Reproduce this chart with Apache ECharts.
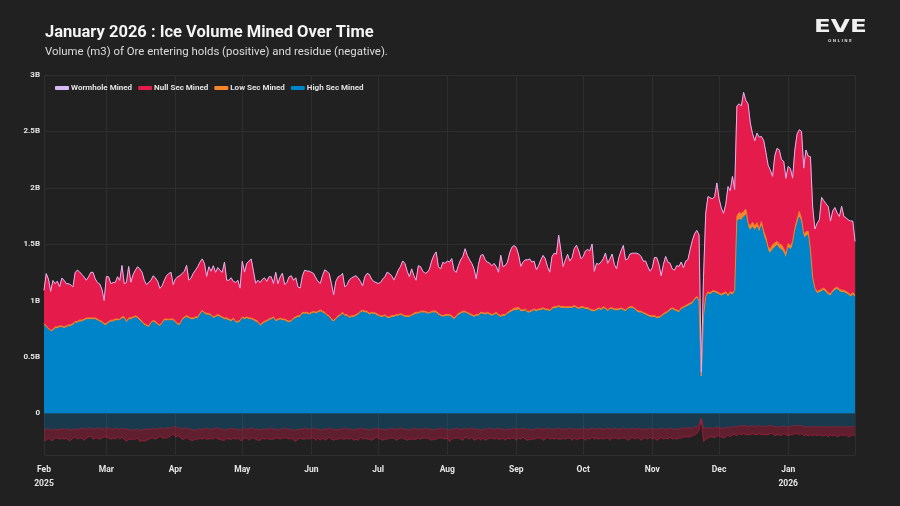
<!DOCTYPE html>
<html><head><meta charset="utf-8">
<script src="https://cdn.jsdelivr.net/npm/echarts@6/dist/echarts.min.js"></script>
<style>html,body{margin:0;padding:0;background:#212121;}#chart{width:900px;height:506px;}</style>
</head><body><div id="chart"></div>
<script>
// Daily values in billions of m3, from 2025-02-01 to 2026-01-31
const startDate = [2025, 1, 1];
const monthNames = ['Jan','Feb','Mar','Apr','May','Jun','Jul','Aug','Sep','Oct','Nov','Dec'];
const seriesNames = ['Wormhole Mined','Null Sec Mined','Low Sec Mined','High Sec Mined'];

const highSec = [
0.78,0.76,0.74,0.72,0.73,0.75,0.75,0.76,0.76,0.75,
0.76,0.77,0.77,0.78,0.80,0.80,0.81,0.81,0.82,0.83,
0.83,0.83,0.83,0.83,0.82,0.81,0.80,0.78,0.78,0.80,
0.81,0.81,0.82,0.82,0.82,0.84,0.84,0.80,0.83,0.83,
0.84,0.85,0.84,0.82,0.80,0.78,0.77,0.76,0.79,0.81,
0.80,0.78,0.77,0.79,0.82,0.82,0.82,0.82,0.82,0.80,
0.78,0.78,0.82,0.84,0.85,0.84,0.83,0.83,0.84,0.84,
0.87,0.90,0.88,0.87,0.87,0.86,0.84,0.85,0.86,0.85,
0.84,0.83,0.83,0.82,0.81,0.83,0.80,0.80,0.81,0.84,
0.83,0.84,0.83,0.83,0.82,0.81,0.80,0.77,0.79,0.80,
0.81,0.82,0.83,0.84,0.81,0.82,0.83,0.82,0.82,0.81,
0.80,0.81,0.83,0.84,0.85,0.85,0.88,0.88,0.88,0.87,
0.88,0.89,0.88,0.89,0.90,0.89,0.88,0.86,0.85,0.82,
0.81,0.83,0.85,0.86,0.88,0.86,0.86,0.84,0.85,0.85,
0.86,0.87,0.89,0.90,0.89,0.89,0.87,0.88,0.88,0.87,
0.86,0.85,0.85,0.86,0.84,0.84,0.85,0.85,0.86,0.86,
0.87,0.86,0.85,0.85,0.85,0.86,0.87,0.88,0.88,0.89,
0.89,0.89,0.88,0.88,0.89,0.89,0.89,0.87,0.86,0.85,
0.86,0.86,0.86,0.85,0.83,0.85,0.87,0.88,0.89,0.89,
0.88,0.87,0.86,0.85,0.86,0.86,0.88,0.88,0.87,0.88,
0.87,0.86,0.87,0.88,0.86,0.85,0.86,0.86,0.88,0.89,
0.90,0.91,0.91,0.92,0.90,0.90,0.91,0.89,0.89,0.90,
0.91,0.90,0.91,0.91,0.92,0.91,0.91,0.90,0.92,0.93,
0.93,0.94,0.93,0.93,0.93,0.93,0.93,0.93,0.94,0.93,
0.92,0.93,0.93,0.92,0.92,0.91,0.90,0.90,0.91,0.92,
0.91,0.93,0.92,0.90,0.92,0.92,0.91,0.91,0.91,0.92,
0.91,0.90,0.92,0.93,0.93,0.92,0.90,0.89,0.89,0.88,
0.87,0.86,0.85,0.85,0.85,0.84,0.84,0.85,0.87,0.88,
0.89,0.91,0.92,0.91,0.90,0.89,0.92,0.93,0.94,0.95,
0.96,0.97,1.00,1.02,0.98,0.32,0.85,1.02,1.06,1.05,
1.07,1.07,1.06,1.05,1.04,1.05,1.06,1.03,1.06,1.05,
1.07,1.70,1.72,1.71,1.74,1.76,1.65,1.62,1.65,1.62,
1.65,1.60,1.66,1.57,1.52,1.44,1.42,1.45,1.47,1.49,
1.46,1.45,1.42,1.37,1.47,1.45,1.48,1.60,1.67,1.74,
1.68,1.55,1.57,1.58,1.42,1.18,1.09,1.06,1.07,1.08,
1.09,1.07,1.05,1.04,1.07,1.09,1.10,1.08,1.07,1.07,
1.06,1.05,1.03,1.05,1.03];

const lowSec = [
0.015,0.014,0.016,0.015,0.013,0.016,0.017,0.015,0.014,0.016,
0.015,0.013,0.015,0.016,0.014,0.015,0.017,0.016,0.014,0.015,
0.016,0.015,0.014,0.016,0.015,0.013,0.015,0.016,0.017,0.015,
0.014,0.016,0.015,0.015,0.013,0.016,0.015,0.014,0.016,0.017,
0.015,0.014,0.016,0.015,0.016,0.014,0.015,0.017,0.015,0.014,
0.016,0.015,0.013,0.015,0.016,0.015,0.014,0.016,0.015,0.017,
0.015,0.016,0.014,0.015,0.017,0.015,0.014,0.016,0.015,0.015,
0.016,0.014,0.015,0.017,0.015,0.016,0.014,0.015,0.016,0.015,
0.014,0.015,0.016,0.015,0.017,0.014,0.015,0.016,0.015,0.014,
0.016,0.015,0.015,0.014,0.016,0.017,0.015,0.014,0.015,0.016,
0.015,0.017,0.014,0.015,0.016,0.015,0.014,0.016,0.015,0.015,
0.016,0.015,0.014,0.016,0.015,0.017,0.015,0.014,0.016,0.015,
0.015,0.014,0.016,0.015,0.017,0.015,0.016,0.014,0.015,0.016,
0.014,0.016,0.015,0.015,0.016,0.014,0.015,0.017,0.015,0.016,
0.015,0.016,0.014,0.015,0.016,0.015,0.017,0.015,0.014,0.016,
0.016,0.015,0.015,0.014,0.016,0.015,0.017,0.016,0.015,0.014,
0.015,0.016,0.014,0.016,0.015,0.015,0.017,0.016,0.014,0.015,
0.016,0.015,0.016,0.014,0.015,0.017,0.015,0.016,0.015,0.014,
0.015,0.016,0.015,0.017,0.014,0.015,0.016,0.015,0.016,0.015,
0.014,0.016,0.015,0.015,0.017,0.016,0.015,0.014,0.016,0.015,
0.016,0.015,0.014,0.016,0.015,0.017,0.016,0.015,0.015,0.016,
0.018,0.022,0.024,0.021,0.018,0.016,0.015,0.016,0.015,0.016,
0.015,0.016,0.015,0.017,0.016,0.015,0.014,0.016,0.015,0.016,
0.016,0.015,0.017,0.016,0.015,0.016,0.015,0.014,0.016,0.015,
0.015,0.016,0.015,0.016,0.017,0.015,0.016,0.015,0.014,0.016,
0.016,0.015,0.016,0.015,0.014,0.016,0.015,0.017,0.016,0.015,
0.015,0.016,0.014,0.016,0.015,0.016,0.015,0.016,0.015,0.014,
0.016,0.015,0.016,0.015,0.017,0.015,0.016,0.015,0.014,0.016,
0.015,0.016,0.015,0.016,0.015,0.017,0.016,0.015,0.016,0.017,
0.017,0.018,0.016,0.017,0.018,0.010,0.016,0.018,0.017,0.016,
0.017,0.016,0.018,0.017,0.016,0.018,0.017,0.016,0.018,0.017,
0.02,0.05,0.06,0.06,0.05,0.05,0.04,0.04,0.045,0.04,
0.04,0.035,0.04,0.045,0.04,0.035,0.04,0.045,0.04,0.035,
0.04,0.045,0.04,0.04,0.035,0.035,0.04,0.04,0.05,0.05,
0.045,0.04,0.04,0.035,0.03,0.025,0.02,0.02,0.02,0.02,
0.02,0.022,0.018,0.02,0.021,0.02,0.019,0.02,0.022,0.02,
0.02,0.019,0.02,0.021,0.02];

const nullSec = [
0.29,0.46,0.43,0.34,0.43,0.38,0.40,0.34,0.42,0.41,
0.37,0.36,0.35,0.32,0.43,0.45,0.42,0.40,0.37,0.33,
0.36,0.40,0.40,0.34,0.32,0.32,0.28,0.20,0.41,0.39,
0.32,0.33,0.32,0.37,0.34,0.45,0.29,0.34,0.45,0.31,
0.37,0.40,0.44,0.44,0.43,0.38,0.35,0.38,0.37,0.39,
0.38,0.37,0.32,0.32,0.34,0.38,0.40,0.41,0.30,0.37,
0.41,0.42,0.40,0.40,0.44,0.32,0.35,0.39,0.41,0.44,
0.45,0.45,0.43,0.32,0.41,0.38,0.45,0.38,0.41,0.40,
0.39,0.49,0.33,0.34,0.37,0.32,0.34,0.36,0.28,0.49,
0.40,0.47,0.50,0.52,0.42,0.32,0.36,0.37,0.38,0.38,
0.34,0.37,0.36,0.29,0.42,0.31,0.36,0.40,0.30,0.33,
0.39,0.39,0.33,0.34,0.25,0.24,0.32,0.37,0.36,0.37,
0.35,0.33,0.30,0.26,0.23,0.31,0.37,0.38,0.37,0.31,
0.22,0.32,0.34,0.34,0.34,0.24,0.26,0.32,0.33,0.34,
0.34,0.31,0.26,0.21,0.30,0.33,0.34,0.29,0.27,0.27,
0.27,0.29,0.32,0.33,0.39,0.38,0.35,0.31,0.34,0.39,
0.41,0.47,0.46,0.39,0.34,0.40,0.33,0.28,0.41,0.39,
0.35,0.33,0.35,0.38,0.44,0.49,0.52,0.41,0.40,0.47,
0.45,0.47,0.46,0.50,0.42,0.38,0.42,0.46,0.48,0.55,
0.50,0.47,0.45,0.41,0.31,0.44,0.50,0.51,0.47,0.44,
0.44,0.43,0.44,0.40,0.37,0.53,0.42,0.43,0.44,0.51,
0.55,0.55,0.53,0.46,0.38,0.42,0.43,0.45,0.46,0.42,
0.42,0.35,0.38,0.43,0.46,0.44,0.37,0.33,0.45,0.47,
0.46,0.62,0.49,0.35,0.41,0.46,0.40,0.43,0.50,0.54,
0.50,0.42,0.44,0.50,0.51,0.51,0.58,0.34,0.40,0.38,
0.41,0.42,0.48,0.41,0.43,0.47,0.39,0.35,0.45,0.50,
0.56,0.44,0.43,0.46,0.47,0.48,0.50,0.50,0.48,0.45,
0.46,0.42,0.39,0.42,0.51,0.52,0.46,0.35,0.43,0.49,
0.43,0.40,0.34,0.34,0.39,0.39,0.40,0.34,0.39,0.39,
0.47,0.54,0.57,0.58,0.58,0.03,0.33,0.73,0.84,0.84,
0.81,0.83,0.96,0.83,0.76,0.70,0.77,0.96,0.89,1.03,
0.89,0.97,0.96,0.95,1.05,0.96,1.05,0.91,0.78,0.75,
0.79,0.81,0.75,0.80,0.75,0.72,0.69,0.60,0.77,0.82,
0.83,0.75,0.77,0.67,0.68,0.68,0.56,0.69,0.75,0.72,
0.77,0.58,0.72,0.66,0.82,0.62,0.52,0.60,0.62,0.81,
0.77,0.76,0.76,0.64,0.70,0.71,0.65,0.64,0.74,0.65,
0.65,0.64,0.65,0.63,0.47];

const wormhole = [
0.005,0.005,0.004,0.006,0.005,0.004,0.005,0.006,0.005,0.004,
0.005,0.006,0.005,0.004,0.005,0.005,0.006,0.004,0.005,0.005,
0.004,0.005,0.006,0.005,0.005,0.004,0.005,0.005,0.006,0.005,
0.005,0.004,0.005,0.006,0.005,0.005,0.004,0.005,0.006,0.005,
0.006,0.005,0.004,0.005,0.005,0.006,0.005,0.004,0.005,0.005,
0.005,0.006,0.005,0.005,0.004,0.005,0.006,0.005,0.005,0.004,
0.005,0.005,0.006,0.004,0.005,0.005,0.005,0.006,0.004,0.005,
0.004,0.005,0.005,0.006,0.005,0.004,0.005,0.005,0.006,0.005,
0.005,0.006,0.004,0.005,0.005,0.005,0.006,0.004,0.005,0.005,
0.006,0.005,0.005,0.004,0.005,0.006,0.005,0.005,0.004,0.005,
0.005,0.004,0.006,0.005,0.005,0.004,0.005,0.006,0.005,0.005,
0.004,0.005,0.005,0.006,0.005,0.005,0.004,0.005,0.006,0.005,
0.005,0.006,0.005,0.004,0.005,0.005,0.006,0.005,0.004,0.005,
0.006,0.005,0.004,0.005,0.005,0.006,0.005,0.005,0.004,0.005,
0.005,0.005,0.006,0.005,0.004,0.005,0.005,0.006,0.005,0.004,
0.005,0.004,0.005,0.006,0.005,0.005,0.004,0.005,0.006,0.005,
0.006,0.005,0.005,0.004,0.005,0.006,0.005,0.004,0.005,0.005,
0.005,0.006,0.004,0.005,0.005,0.005,0.006,0.005,0.004,0.005,
0.004,0.005,0.006,0.005,0.005,0.004,0.005,0.006,0.005,0.005,
0.005,0.005,0.004,0.006,0.005,0.005,0.004,0.005,0.006,0.005,
0.006,0.004,0.005,0.005,0.006,0.005,0.004,0.005,0.005,0.006,
0.005,0.005,0.006,0.004,0.005,0.005,0.006,0.005,0.004,0.005,
0.004,0.006,0.005,0.005,0.004,0.005,0.006,0.005,0.005,0.004,
0.005,0.005,0.004,0.006,0.005,0.004,0.005,0.006,0.005,0.005,
0.006,0.005,0.005,0.004,0.006,0.005,0.005,0.004,0.005,0.006,
0.005,0.004,0.006,0.005,0.005,0.006,0.004,0.005,0.005,0.005,
0.004,0.005,0.005,0.006,0.005,0.004,0.005,0.005,0.006,0.005,
0.005,0.006,0.004,0.005,0.005,0.006,0.005,0.004,0.005,0.005,
0.006,0.005,0.005,0.004,0.005,0.005,0.006,0.005,0.004,0.005,
0.005,0.004,0.006,0.005,0.005,0.002,0.005,0.006,0.005,0.005,
0.005,0.006,0.005,0.004,0.005,0.005,0.006,0.005,0.005,0.004,
0.005,0.006,0.005,0.005,0.006,0.005,0.004,0.005,0.005,0.006,
0.005,0.005,0.004,0.006,0.005,0.005,0.006,0.005,0.004,0.005,
0.006,0.005,0.005,0.004,0.005,0.006,0.005,0.005,0.006,0.005,
0.005,0.004,0.005,0.006,0.005,0.005,0.004,0.005,0.006,0.005,
0.005,0.006,0.005,0.004,0.005,0.005,0.006,0.005,0.004,0.005,
0.005,0.005,0.006,0.004,0.005];

// Residue (negative)
const highSecResidue = [
-0.15,-0.14,-0.14,-0.15,-0.14,-0.14,-0.15,-0.14,-0.14,-0.14,
-0.14,-0.14,-0.15,-0.14,-0.14,-0.14,-0.14,-0.13,-0.14,-0.14,
-0.13,-0.13,-0.14,-0.14,-0.13,-0.13,-0.14,-0.14,-0.13,-0.13,
-0.14,-0.14,-0.13,-0.14,-0.14,-0.13,-0.14,-0.14,-0.14,-0.15,
-0.15,-0.14,-0.14,-0.15,-0.15,-0.14,-0.14,-0.14,-0.14,-0.13,
-0.14,-0.14,-0.13,-0.13,-0.14,-0.13,-0.13,-0.13,-0.12,-0.12,
-0.13,-0.13,-0.14,-0.13,-0.13,-0.14,-0.14,-0.15,-0.15,-0.14,
-0.14,-0.14,-0.14,-0.13,-0.14,-0.14,-0.14,-0.13,-0.13,-0.14,
-0.14,-0.15,-0.14,-0.14,-0.13,-0.14,-0.14,-0.14,-0.15,-0.14,
-0.13,-0.14,-0.14,-0.13,-0.14,-0.14,-0.14,-0.15,-0.14,-0.14,
-0.14,-0.14,-0.13,-0.14,-0.14,-0.15,-0.14,-0.14,-0.13,-0.14,
-0.14,-0.14,-0.15,-0.15,-0.14,-0.14,-0.14,-0.13,-0.14,-0.14,
-0.14,-0.13,-0.14,-0.14,-0.15,-0.14,-0.14,-0.14,-0.13,-0.14,
-0.14,-0.15,-0.14,-0.14,-0.14,-0.13,-0.14,-0.14,-0.14,-0.15,
-0.14,-0.14,-0.13,-0.14,-0.14,-0.14,-0.15,-0.14,-0.14,-0.13,
-0.14,-0.14,-0.14,-0.15,-0.14,-0.14,-0.13,-0.14,-0.14,-0.14,
-0.13,-0.14,-0.14,-0.14,-0.15,-0.14,-0.13,-0.14,-0.14,-0.14,
-0.14,-0.13,-0.14,-0.14,-0.14,-0.15,-0.14,-0.14,-0.13,-0.14,
-0.14,-0.14,-0.15,-0.14,-0.14,-0.13,-0.14,-0.14,-0.14,-0.13,
-0.14,-0.14,-0.13,-0.14,-0.14,-0.14,-0.15,-0.14,-0.14,-0.14,
-0.13,-0.14,-0.14,-0.14,-0.13,-0.14,-0.14,-0.15,-0.14,-0.14,
-0.14,-0.13,-0.14,-0.14,-0.14,-0.13,-0.14,-0.14,-0.14,-0.15,
-0.14,-0.14,-0.13,-0.14,-0.14,-0.14,-0.13,-0.14,-0.14,-0.14,
-0.14,-0.13,-0.14,-0.14,-0.14,-0.14,-0.13,-0.14,-0.14,-0.14,
-0.14,-0.14,-0.13,-0.14,-0.14,-0.14,-0.13,-0.14,-0.14,-0.13,
-0.14,-0.14,-0.14,-0.13,-0.14,-0.14,-0.13,-0.14,-0.14,-0.14,
-0.13,-0.14,-0.14,-0.14,-0.13,-0.14,-0.14,-0.13,-0.14,-0.14,
-0.14,-0.14,-0.13,-0.14,-0.14,-0.14,-0.14,-0.13,-0.14,-0.14,
-0.14,-0.13,-0.14,-0.14,-0.14,-0.14,-0.13,-0.13,-0.13,-0.13,
-0.13,-0.13,-0.12,-0.12,-0.10,-0.04,-0.13,-0.13,-0.13,-0.13,
-0.13,-0.13,-0.12,-0.13,-0.13,-0.13,-0.13,-0.12,-0.13,-0.12,
-0.12,-0.12,-0.11,-0.11,-0.11,-0.11,-0.12,-0.11,-0.11,-0.12,
-0.11,-0.11,-0.12,-0.11,-0.12,-0.11,-0.11,-0.11,-0.12,-0.12,
-0.12,-0.12,-0.11,-0.12,-0.12,-0.12,-0.11,-0.11,-0.11,-0.11,
-0.11,-0.12,-0.12,-0.12,-0.12,-0.12,-0.12,-0.12,-0.12,-0.12,
-0.12,-0.12,-0.12,-0.12,-0.12,-0.12,-0.12,-0.12,-0.12,-0.12,
-0.12,-0.12,-0.12,-0.12,-0.12];

const nullSecResidue = [
-0.09,-0.10,-0.08,-0.09,-0.10,-0.08,-0.07,-0.09,-0.08,-0.09,
-0.08,-0.10,-0.09,-0.08,-0.07,-0.09,-0.08,-0.09,-0.10,-0.08,
-0.08,-0.07,-0.09,-0.08,-0.09,-0.10,-0.08,-0.07,-0.08,-0.09,
-0.09,-0.08,-0.10,-0.07,-0.09,-0.08,-0.09,-0.11,-0.09,-0.08,
-0.08,-0.09,-0.08,-0.10,-0.09,-0.11,-0.10,-0.09,-0.08,-0.09,
-0.09,-0.08,-0.07,-0.09,-0.08,-0.09,-0.08,-0.07,-0.06,-0.09,
-0.07,-0.08,-0.09,-0.10,-0.08,-0.09,-0.10,-0.09,-0.08,-0.09,
-0.08,-0.09,-0.08,-0.10,-0.09,-0.08,-0.09,-0.08,-0.10,-0.09,
-0.10,-0.09,-0.08,-0.09,-0.10,-0.08,-0.09,-0.08,-0.09,-0.10,
-0.09,-0.08,-0.10,-0.09,-0.08,-0.09,-0.10,-0.09,-0.08,-0.09,
-0.08,-0.09,-0.10,-0.09,-0.08,-0.07,-0.09,-0.08,-0.09,-0.08,
-0.09,-0.08,-0.09,-0.10,-0.09,-0.08,-0.09,-0.10,-0.08,-0.09,
-0.08,-0.09,-0.10,-0.08,-0.09,-0.08,-0.10,-0.09,-0.08,-0.09,
-0.10,-0.08,-0.09,-0.08,-0.09,-0.10,-0.08,-0.09,-0.08,-0.09,
-0.09,-0.10,-0.08,-0.09,-0.08,-0.09,-0.08,-0.10,-0.09,-0.08,
-0.08,-0.09,-0.10,-0.08,-0.09,-0.08,-0.09,-0.08,-0.10,-0.09,
-0.09,-0.08,-0.09,-0.10,-0.08,-0.09,-0.10,-0.09,-0.08,-0.09,
-0.08,-0.09,-0.08,-0.09,-0.10,-0.08,-0.09,-0.08,-0.09,-0.08,
-0.09,-0.08,-0.10,-0.09,-0.08,-0.09,-0.08,-0.09,-0.10,-0.08,
-0.08,-0.09,-0.08,-0.10,-0.09,-0.08,-0.09,-0.08,-0.10,-0.09,
-0.09,-0.08,-0.09,-0.08,-0.10,-0.09,-0.08,-0.09,-0.08,-0.09,
-0.08,-0.09,-0.10,-0.08,-0.09,-0.08,-0.09,-0.10,-0.09,-0.08,
-0.09,-0.08,-0.09,-0.08,-0.10,-0.09,-0.08,-0.09,-0.08,-0.09,
-0.08,-0.10,-0.09,-0.08,-0.09,-0.08,-0.09,-0.10,-0.08,-0.09,
-0.09,-0.08,-0.09,-0.10,-0.08,-0.09,-0.08,-0.09,-0.08,-0.10,
-0.08,-0.09,-0.08,-0.09,-0.10,-0.08,-0.09,-0.08,-0.09,-0.08,
-0.09,-0.08,-0.10,-0.09,-0.08,-0.09,-0.08,-0.09,-0.10,-0.08,
-0.08,-0.09,-0.08,-0.09,-0.08,-0.10,-0.09,-0.08,-0.09,-0.08,
-0.09,-0.08,-0.09,-0.08,-0.09,-0.08,-0.09,-0.08,-0.08,-0.08,
-0.08,-0.07,-0.07,-0.06,-0.05,-0.02,-0.12,-0.10,-0.09,-0.08,
-0.08,-0.09,-0.08,-0.07,-0.08,-0.09,-0.08,-0.07,-0.08,-0.07,
-0.07,-0.08,-0.07,-0.08,-0.07,-0.08,-0.07,-0.08,-0.07,-0.07,
-0.08,-0.07,-0.07,-0.08,-0.07,-0.08,-0.07,-0.07,-0.08,-0.07,
-0.07,-0.08,-0.07,-0.07,-0.08,-0.07,-0.08,-0.07,-0.07,-0.08,
-0.07,-0.08,-0.07,-0.08,-0.07,-0.08,-0.07,-0.08,-0.07,-0.08,
-0.08,-0.07,-0.09,-0.07,-0.08,-0.07,-0.09,-0.08,-0.07,-0.08,
-0.07,-0.09,-0.08,-0.07,-0.08];

const dates = highSec.map((_, i) => new Date(startDate[0], startDate[1], startDate[2] + i).getTime());
const pairs = arr => arr.map((v, i) => [dates[i], v]);

const FONT = 'Roboto';
const chart = echarts.init(document.getElementById('chart'), null, {renderer: 'canvas'});

const C = {
  high: '#0084c9', low: '#f5852b', nul: '#e41b4b', worm: '#d8b8f6'
};

function areaSeries(name, data, color, lineColor, stack) {
  return {
    name, type: 'line', stack, data: pairs(data), showSymbol: false, symbol: 'none',
    sampling: null, color,
    lineStyle: {width: 1, color: lineColor || color},
    areaStyle: {color, opacity: 1},
    emphasis: {disabled: true}
  };
}

const option = {
  backgroundColor: '#212121',
  animation: false,
  textStyle: {fontFamily: FONT},
  title: {
    text: 'January 2026 : Ice Volume Mined Over Time',
    subtext: 'Volume (m3) of Ore entering holds (positive) and residue (negative).',
    left: 40, top: 19, itemGap: 6,
    textStyle: {color: '#f4f4f4', fontSize: 16.5, fontWeight: 'bold', fontFamily: FONT},
    subtextStyle: {color: '#dcdcdc', fontSize: 11.4, fontFamily: FONT}
  },
  legend: {
    data: seriesNames, left: 50, top: 79, itemWidth: 14, itemHeight: 4, itemGap: 6,
    icon: 'roundRect',
    textStyle: {color: '#e2e2e2', fontSize: 8, fontWeight: 'bold', fontFamily: FONT, padding: [0, 0, 0, -3]}
  },
  grid: {left: 44, right: 45, top: 75, bottom: 51, containLabel: false},
  xAxis: {
    type: 'time',
    min: dates[0], max: dates[dates.length - 1],
    splitNumber: 12,
    axisLine: {show: false}, axisTick: {show: false},
    splitLine: {show: true, lineStyle: {color: '#2e2e2e', width: 1}},
    axisLabel: {
      color: '#e6e6e6', fontSize: 8.5, fontWeight: 'bold', fontFamily: FONT, margin: 8, lineHeight: 14,
      hideOverlap: false,
      formatter: function (value) {
        const d = new Date(value);
        const m = monthNames[d.getMonth()];
        if (value === dates[0] || d.getMonth() === 0) return m + '\n' + d.getFullYear();
        return m;
      }
    }
  },
  yAxis: {
    type: 'value', min: -0.37, max: 3, splitNumber: 6,
    axisLine: {show: false}, axisTick: {show: false},
    splitLine: {show: true, lineStyle: {color: '#2e2e2e', width: 1}},
    axisLabel: {
      color: '#e6e6e6', fontSize: 8, fontWeight: 'bold', fontFamily: FONT, margin: 4,
      showMinLabel: false,
      formatter: v => v < 0 ? '' : (v === 0 ? '0' : (Math.round(v * 10) / 10) + 'B')
    }
  },
  series: [
    areaSeries('High Sec Mined', highSec, C.high, C.high, 'pos'),
    areaSeries('Low Sec Mined', lowSec, C.low, C.low, 'pos'),
    areaSeries('Null Sec Mined', nullSec, C.nul, C.nul, 'pos'),
    areaSeries('Wormhole Mined', wormhole, C.worm, '#dcb2ee', 'pos'),
    {
      name: 'High Sec Residue', type: 'line', stack: 'neg', data: pairs(highSecResidue),
      showSymbol: false, symbol: 'none', color: C.high,
      lineStyle: {width: 1, color: 'rgba(160,40,70,0.6)'},
      areaStyle: {color: 'rgba(0,132,201,0.26)', opacity: 1},
      emphasis: {disabled: true}
    },
    {
      name: 'Null Sec Residue', type: 'line', stack: 'neg', data: pairs(nullSecResidue),
      showSymbol: false, symbol: 'none', color: C.nul,
      lineStyle: {width: 1, color: 'rgba(228,27,75,0.5)'},
      areaStyle: {color: 'rgba(228,27,75,0.32)', opacity: 1},
      emphasis: {disabled: true}
    }
  ],
  graphic: [
    {type: 'text', left: 814, top: 19, scaleX: 1.45,
     style: {text: 'EVE', fill: '#f0f0f0', font: 'bold 17px "DejaVu Sans"'}},
    {type: 'text', left: 828, top: 39,
     style: {text: 'O N L I N E', fill: '#cfcfcf', font: 'bold 4px "DejaVu Sans"'}}
  ]
};
chart.setOption(option);
</script>
</body></html>
